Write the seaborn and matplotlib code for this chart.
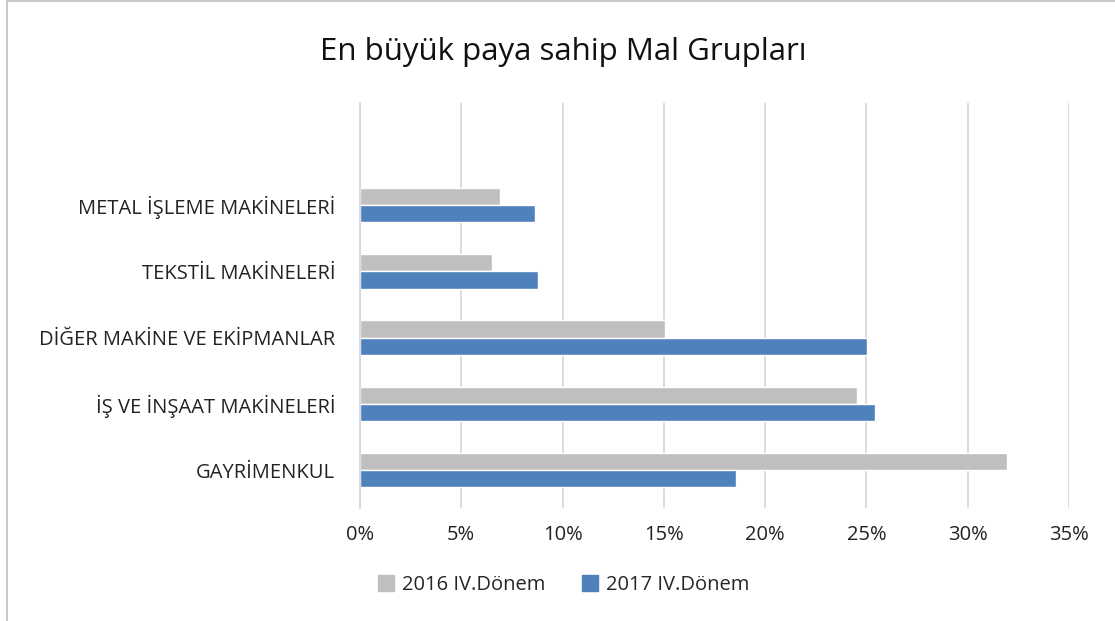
import matplotlib
matplotlib.use("Agg")
import matplotlib.pyplot as plt
import seaborn as sns
import pandas as pd
from matplotlib.ticker import PercentFormatter, MultipleLocator
from matplotlib.patches import Rectangle
from matplotlib.lines import Line2D

categories = ["METAL İŞLEME MAKİNELERİ", "TEKSTİL MAKİNELERİ", "DİĞER MAKİNE VE EKİPMANLAR",
              "İŞ VE İNŞAAT MAKİNELERİ", "GAYRİMENKUL"]
series_names = ["2016 IV.Dönem", "2017 IV.Dönem"]
values_2016 = [6.9, 6.5, 15.05, 24.55, 31.95]
values_2017 = [8.65, 8.8, 25.05, 25.4, 18.55]
colors = ["#BFBFBF", "#4F81BD"]

df = pd.DataFrame({
    "cat": categories * 2,
    "val": values_2016 + values_2017,
    "series": [series_names[0]] * 5 + [series_names[1]] * 5,
})

sns.set_theme(style="white")
plt.rcParams["font.family"] = ["Open Sans", "DejaVu Sans"]

fig = plt.figure(figsize=(11.15, 6.21), dpi=100)
ax = fig.add_axes([360/1115, 1-508/621, (1069-360)/1115, (508-103)/621])

sns.barplot(data=df, y="cat", x="val", hue="series", orient="h", palette=colors,
            width=0.52, gap=0, ax=ax, legend=False, saturation=1)

ax.set_xlim(0, 35)
ax.set_ylim(4.57, -1.54)
ax.xaxis.set_major_locator(MultipleLocator(5))
ax.xaxis.set_major_formatter(PercentFormatter(decimals=0))
ax.grid(axis="x", color="#D9D9D9", linewidth=1.3)
ax.set_axisbelow(True)
for s in ["top", "right", "bottom"]:
    ax.spines[s].set_visible(False)
ax.spines["left"].set_color("#D9D9D9")
ax.spines["left"].set_linewidth(1.3)
ax.set_xlabel("")
ax.set_ylabel("")
ax.tick_params(axis="both", length=0, labelsize=14.5, colors="#222222")
ax.tick_params(axis="y", pad=18)
ax.tick_params(axis="x", pad=12)

fig.suptitle("En büyük paya sahip Mal Grupları", fontsize=22.5, y=1-52/621, x=0.505,
             va="center", color="#111111")

handles = [Line2D([0], [0], marker="s", linestyle="", markersize=11,
                  markerfacecolor=c, markeredgecolor=c) for c in colors]
fig.legend(handles, series_names, loc="center", bbox_to_anchor=(0.5, 1-585/621),
           ncol=2, frameon=False, fontsize=14.5, handletextpad=-0.2, columnspacing=1.2)

fig.patches.append(Rectangle((0.006, -0.01), 1.1, 1.008, transform=fig.transFigure,
                             fill=False, edgecolor="#BFBFBF", linewidth=1.2))

fig.savefig("out.png", dpi=100)
